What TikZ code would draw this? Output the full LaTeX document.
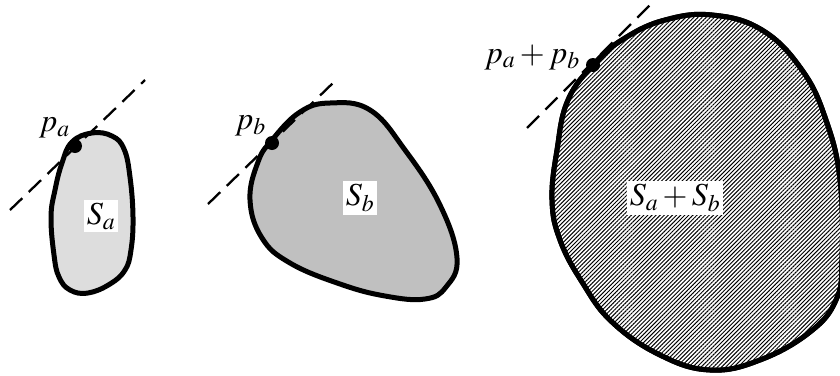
\documentclass[tikz,border=0pt]{standalone}
\usepackage{mathptmx}
\usetikzlibrary{patterns.meta}
\definecolor{lightfill}{HTML}{DDDDDD}
\definecolor{midfill}{HTML}{C0C0C0}
\tikzset{
  outline/.style={line width=5pt, line join=round},
  tangent/.style={line width=2.3pt, dash pattern=on 17pt off 9pt},
  touch/.style={circle, fill=black, inner sep=0pt, minimum size=14pt},
  lab/.style={font=\fontsize{32}{34}\selectfont, inner sep=0pt},
  setlab/.style={font=\fontsize{32}{34}\selectfont, fill=white, inner sep=3pt},
}
\begin{document}
\begin{tikzpicture}[x=1pt,y=-1pt]
\useasboundingbox (0,0) rectangle (840,375);
% Sa
\draw[outline, fill=lightfill] plot[smooth cycle, tension=0.7] coordinates {
 (92,133) (112,136) (124,149) (130,177) (133,217) (131,250) (125,270) (110,284) (88,293) (70,290) (59,277) (54,255) (51,217) (55,190) (62,163) (72,142)};
% Sb
\draw[outline, fill=midfill] plot[smooth cycle, tension=0.7] coordinates {
 (300,112) (330,103) (370,110) (405,150) (440,205) (457,258) (446,287) (425,299) (385,296) (340,284) (290,263) (262,238) (250,200) (258,162) (272,140)};
% Sa+Sb
\draw[outline, fill=white] plot[smooth cycle, tension=0.7] coordinates {
 (595,63) (625,38) (665,20) (712,15) (762,30) (802,70) (826,120) (840,180) (842,260) (836,300) (810,332) (760,360) (710,370) (660,355) (612,322) (582,282) (560,240) (552,200) (557,150) (568,100)};
\fill[pattern={Lines[angle=45,distance=2.9pt,line width=0.95pt]}] plot[smooth cycle, tension=0.7] coordinates {
 (595,63) (625,38) (665,20) (712,15) (762,30) (802,70) (826,120) (840,180) (842,260) (836,300) (810,332) (760,360) (710,370) (660,355) (612,322) (582,282) (560,240) (552,200) (557,150) (568,100)};
\draw[outline] plot[smooth cycle, tension=0.7] coordinates {
 (595,63) (625,38) (665,20) (712,15) (762,30) (802,70) (826,120) (840,180) (842,260) (836,300) (810,332) (760,360) (710,370) (660,355) (612,322) (582,282) (560,240) (552,200) (557,150) (568,100)};
% tangent points and lines
\node[touch] (pa) at (75,146) {};
\node[touch] (pb) at (272,143) {};
\node[touch] (pab) at (593,65) {};
\coordinate (ta1) at (10,210); \coordinate (ta2) at (145,80);
\coordinate (tb1) at (208,204); \coordinate (tb2) at (334,82);
\coordinate (tc1) at (527,128); \coordinate (tc2) at (650,5);
\draw[tangent] (ta1) -- (ta2);
\draw[tangent] (tb1) -- (tb2);
\draw[tangent] (tc1) -- (tc2);
% labels
\node[lab, anchor=east] (lpa) at (70,128) {$p_a$};
\node[lab, anchor=east] (lpb) at (266,126) {$p_b$};
\node[lab, anchor=east] (lpab) at (580,57) {$p_a+p_b$};
\node[setlab] (sa) at (101,216) {$S_a$};
\node[setlab] (sb) at (360,198) {$S_b$};
\node[setlab] (sab) at (675,198) {$S_a+S_b$};
\end{tikzpicture}
\end{document}
